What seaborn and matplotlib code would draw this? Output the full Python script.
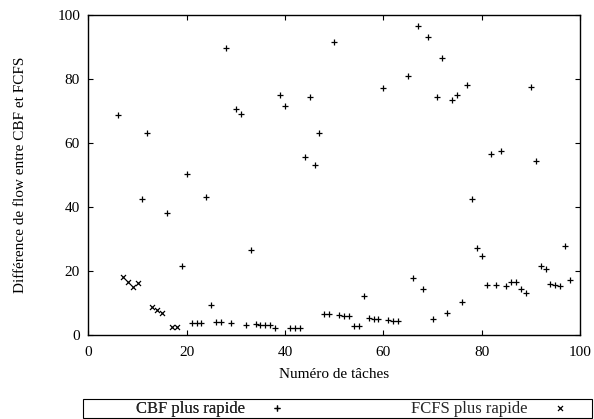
import numpy as np
import pandas as pd
import matplotlib
matplotlib.use('Agg')
import matplotlib.pyplot as plt
from matplotlib.patches import Rectangle
import seaborn as sns

# Données
x_cbf = [6, 11, 12, 16, 19, 20, 21, 22, 23, 24, 25, 26, 27, 28, 29, 30, 31, 32, 33,
         34, 35, 36, 37, 38, 39, 40, 41, 42, 43, 44, 45, 46, 47, 48, 49, 50, 51, 52,
         53, 54, 55, 56, 57, 58, 59, 60, 61, 62, 63, 65, 66, 67, 68, 69, 70, 71, 72,
         73, 74, 75, 76, 77, 78, 79, 80, 81, 82, 83, 84, 85, 86, 87, 88, 89, 90, 91,
         92, 93, 94, 95, 96, 97, 98]
y_cbf = [68.7, 42.5, 63.0, 38.0, 21.5, 50.2, 3.75, 3.6, 3.6, 43.1, 9.4, 4.0, 4.0, 89.6,
         3.75, 70.5, 69.1, 3.0, 26.6, 3.25, 3.0, 3.0, 3.0, 2.0, 74.8, 71.5, 2.0, 2.0,
         2.0, 55.5, 74.2, 52.9, 62.9, 6.4, 6.4, 91.4, 6.2, 5.8, 5.8, 2.8, 2.8, 12.1,
         5.1, 4.8, 4.8, 77.0, 4.6, 4.4, 4.3, 80.9, 17.7, 96.5, 14.2, 93.1, 4.9, 74.2,
         86.4, 6.9, 73.3, 74.8, 10.1, 77.9, 42.3, 27.1, 24.6, 15.5, 56.5, 15.5, 57.5,
         15.2, 16.6, 16.5, 14.2, 12.9, 77.4, 54.2, 21.6, 20.5, 15.75, 15.5, 15.2, 27.6,
         17.2]
x_fcfs = [7, 8, 9, 10, 13, 14, 15, 17, 18]
y_fcfs = [18.1, 16.6, 15.0, 16.1, 8.75, 7.7, 6.9, 2.5, 2.5]

label_cbf = 'CBF plus rapide'
label_fcfs = 'FCFS plus rapide'

sns.set_theme(style="ticks")
plt.rcParams['font.family'] = ['Liberation Serif', 'DejaVu Serif']

df_cbf = pd.DataFrame({'x': x_cbf, 'y': y_cbf})
df_fcfs = pd.DataFrame({'x': x_fcfs, 'y': y_fcfs})

fig = plt.figure(figsize=(5.94, 4.19), dpi=100)
ax = fig.add_axes([0.1488, 0.2012, 0.8276, 0.7637])

sns.scatterplot(data=df_cbf, x='x', y='y', ax=ax, marker='+', color='black',
                s=18, linewidth=0.9, label=label_cbf)
sns.scatterplot(data=df_fcfs, x='x', y='y', ax=ax, marker='x', color='black',
                s=13, linewidth=0.9, label=label_fcfs)

ax.set_xlim(0, 100)
ax.set_ylim(0, 100)
ax.set_xticks([0, 20, 40, 60, 80, 100])
ax.set_yticks([0, 20, 40, 60, 80, 100])
ax.tick_params(direction='in', length=3.5, width=0.8, top=True, right=True,
               labelsize=11, colors='black')
ax.tick_params(axis='x', pad=8.3)
ax.tick_params(axis='y', pad=6)
for sp in ax.spines.values():
    sp.set_linewidth(1.0)
    sp.set_color('black')

ax.set_xlabel('Numéro de tâches', fontsize=11, color='black')
ax.set_ylabel('Différence de flow entre CBF et FCFS', fontsize=11, color='black')
ax.xaxis.set_label_coords(0.5, -0.103)
ax.yaxis.set_label_coords(-0.125, 0.5)

# Légende en bas, façon gnuplot : texte puis symbole
ax.get_legend().remove()
h, l = ax.get_legend_handles_labels()
yc = 1 - 408.5 / 419
leg1 = fig.legend([h[0]], [l[0]], loc='center right', bbox_to_anchor=(285 / 594, yc),
                  markerfirst=False, frameon=False, fontsize=12, borderpad=0,
                  borderaxespad=0, handlelength=1, handletextpad=1.42)
leg2 = fig.legend([h[1]], [l[1]], loc='center right', bbox_to_anchor=(568 / 594, yc),
                  markerfirst=False, frameon=False, fontsize=12, borderpad=0,
                  borderaxespad=0, handlelength=1, handletextpad=1.42)
fig.add_artist(leg1)
fig.patches.append(Rectangle((83 / 594, 1 - 418 / 419), 509 / 594, 19 / 419,
                             transform=fig.transFigure, fill=False,
                             edgecolor='black', linewidth=0.8))

fig.savefig('out.png', dpi=100)
